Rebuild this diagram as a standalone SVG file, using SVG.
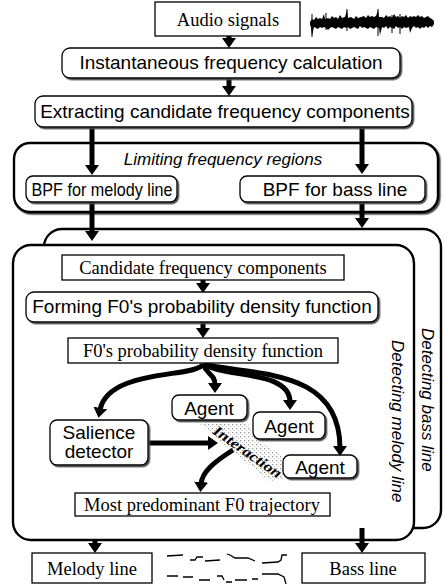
<svg xmlns="http://www.w3.org/2000/svg" width="444" height="584" viewBox="0 0 444 584">
<style>
.box{fill:#fff;stroke:#000;stroke-width:1.3}
.rbox{fill:#fff;stroke:#000;stroke-width:1.3}
.cont{fill:#fff;stroke:#000;stroke-width:2.4}
.serif{font-family:"Liberation Serif","Times New Roman",serif;font-size:18.5px;fill:#000}
.sans{font-family:"Liberation Sans",Arial,sans-serif;font-size:19px;fill:#000}
.it{font-family:"Liberation Sans",Arial,sans-serif;font-style:italic;font-size:17px;fill:#000}
.arr{fill:none;stroke:#000;stroke-width:5}
.mid{text-anchor:middle}
</style>
<defs>
<filter id="sh" x="-5%" y="-10%" width="115%" height="130%">
<feDropShadow dx="1.5" dy="1.5" stdDeviation="0.3" flood-color="#444"/>
</filter>
<marker id="ah" viewBox="0 0 10 14" markerWidth="10" markerHeight="14" refX="2" refY="7" orient="auto" markerUnits="userSpaceOnUse">
<path d="M0,0 L10,7 L0,14 Z" fill="#000"/>
</marker>
<pattern id="dots" width="4" height="4" patternUnits="userSpaceOnUse">
<rect x="0" y="0" width="1.3" height="1.3" fill="#999"/>
<rect x="2" y="2" width="1" height="1" fill="#bbb"/>
</pattern>
</defs>

<!-- containers -->
<g id="limiting">
<rect class="cont" x="14" y="143" width="424" height="69" rx="16" filter="url(#sh)"/>
<text class="it mid" x="223" y="165">Limiting frequency regions</text>
</g>
<g id="bass-container">
<rect class="cont" x="44" y="229" width="397" height="299" rx="18"/>
<text class="it" transform="translate(422,328) rotate(90)">Detecting bass line</text>
</g>
<g id="melody-container">
<rect class="cont" x="13" y="245" width="401" height="295" rx="18" stroke-width="2.6"/>
<text class="it" transform="translate(392,340) rotate(90)">Detecting melody line</text>
</g>

<!-- interaction band -->
<g id="interaction">
<polygon points="200,424 248,424 256,440 283,455 284,479 270,481 238,456 214,436" fill="url(#dots)"/>
<text transform="translate(212,433) rotate(35)" font-family="Liberation Serif,'Times New Roman',serif" font-style="italic" font-weight="bold" font-size="14.5" textLength="80" lengthAdjust="spacingAndGlyphs">Interaction</text>
</g>

<!-- connectors -->
<g id="connectors">
<path class="arr" d="M229,36 L229,40" marker-end="url(#ah)"/>
<path class="arr" d="M229,78 L229,88" marker-end="url(#ah)"/>
<path class="arr" d="M92,127 L92,167" marker-end="url(#ah)"/>
<path class="arr" d="M362,127 L362,166" marker-end="url(#ah)"/>
<path class="arr" d="M92,202 L92,233" marker-end="url(#ah)"/>
<path class="arr" d="M362,202 L362,220" marker-end="url(#ah)"/>
<path class="arr" d="M203,280 L203,285" marker-end="url(#ah)"/>
<path class="arr" d="M203,322 L203,330" marker-end="url(#ah)"/>
<path class="arr" d="M203,364 C198,378 108,368 100,410" marker-end="url(#ah)"/>
<path class="arr" d="M203,364 C207,375 215,374 215,385" marker-end="url(#ah)"/>
<path class="arr" d="M203,364 C225,378 290,370 290,402" marker-end="url(#ah)"/>
<path class="arr" d="M203,364 C250,376 340,366 340,448" stroke-width="7" marker-end="url(#ah)"/>
<path class="arr" d="M148,443 L210,443" marker-end="url(#ah)"/>
<path class="arr" d="M233,450 C214,462 202,472 201,484" stroke-width="6" marker-end="url(#ah)"/>
<path class="arr" d="M95,540 L95,545" marker-end="url(#ah)"/>
<path class="arr" d="M362,528 L362,545" marker-end="url(#ah)"/>
</g>

<!-- nodes -->
<g id="audio">
<rect class="box" x="155" y="2" width="145" height="34"/>
<text class="serif mid" x="228" y="26">Audio signals</text>
</g>
<g id="waveform">
<path d="M310,22 L312,19 314,20 316,17 318,19 320,18 322,19 324,14 325,19 328,18 330,19 332,16 334,18 336,17 338,19 340,15 342,18 345,17 347,10 348,18 351,17 354,19 356,16 358,18 361,17 364,16 366,18 368,15 370,17 372,16 374,17 376,16 378,10 379,17 382,17 384,18 386,15 388,17 390,16 392,18 394,14 396,17 398,16 400,18 402,16 404,17 406,15 408,18 410,16 412,17 414,16 416,17 418,15 420,17 422,16 424,18 426,17 428,16 430,18 432,19 434,21 L434,24 432,27 430,26 428,28 426,26 424,28 422,27 420,29 418,27 416,28 414,26 412,28 410,33 409,27 406,28 404,27 402,29 400,27 398,28 396,26 394,29 392,28 390,27 388,29 386,26 384,28 382,27 380,35 379,28 376,27 374,29 372,28 370,27 368,29 366,28 364,27 362,28 360,26 358,29 356,28 354,27 352,28 350,29 348,27 346,28 344,27 342,29 340,28 338,27 336,29 334,28 332,27 330,28 328,30 326,28 324,27 322,28 320,27 318,29 316,28 314,27 312,36 311,27 310,25 Z" fill="#000"/>
<path d="M312,14 L312,37 M347,9 L347,31 M378,9 L378,36 M400,14 L400,34 M326,13 L326,30 M392,15 L392,33" stroke="#000" stroke-width="1"/>
</g>
<g id="instantaneous">
<rect class="rbox" x="62" y="48" width="338" height="30" rx="8" filter="url(#sh)"/>
<text class="sans mid" x="231" y="69">Instantaneous frequency calculation</text>
</g>
<g id="extracting">
<rect class="rbox" x="35" y="96" width="377" height="31" rx="8" filter="url(#sh)"/>
<text class="sans mid" x="225" y="118">Extracting candidate frequency components</text>
</g>
<g id="bpf-melody">
<rect class="rbox" x="26" y="176" width="151" height="26" rx="7" filter="url(#sh)"/>
<text class="sans mid" x="102" y="196" textLength="141" lengthAdjust="spacingAndGlyphs">BPF for melody line</text>
</g>
<g id="bpf-bass">
<rect class="rbox" x="240" y="176" width="185" height="26" rx="7" filter="url(#sh)"/>
<text class="sans mid" x="335" y="196">BPF for bass line</text>
</g>
<g id="candidate">
<rect class="box" x="62" y="255" width="282" height="25"/>
<text class="serif mid" x="203" y="274">Candidate frequency components</text>
</g>
<g id="forming">
<rect class="rbox" x="26" y="292" width="352" height="30" rx="8" filter="url(#sh)"/>
<text class="sans mid" x="202" y="313">Forming F0's probability density function</text>
</g>
<g id="pdf">
<rect class="box" x="68" y="338" width="270" height="25"/>
<text class="serif mid" x="203" y="357">F0's probability density function</text>
</g>
<g id="agent1">
<rect class="rbox" x="172" y="395" width="75" height="25" rx="7" filter="url(#sh)"/>
<text class="sans mid" x="209" y="415">Agent</text>
</g>
<g id="agent2">
<rect class="rbox" x="253" y="412" width="72" height="27" rx="7" filter="url(#sh)"/>
<text class="sans mid" x="289" y="433">Agent</text>
</g>
<g id="agent3">
<rect class="rbox" x="283" y="455" width="74" height="23" rx="7" filter="url(#sh)"/>
<text class="sans mid" x="320" y="474">Agent</text>
</g>
<g id="salience">
<rect class="rbox" x="50" y="420" width="98" height="45" rx="7" filter="url(#sh)"/>
<text class="sans mid" x="99" y="439">Salience</text>
<text class="sans mid" x="99" y="458">detector</text>
</g>
<g id="predominant">
<rect class="box" x="75" y="493" width="255" height="23"/>
<text class="serif mid" x="202" y="511">Most predominant F0 trajectory</text>
</g>
<g id="melody-line">
<rect class="box" x="32" y="553" width="120" height="30"/>
<text class="serif mid" x="92" y="575">Melody line</text>
</g>
<g id="bass-line">
<rect class="box" x="302" y="553" width="123" height="30"/>
<text class="serif mid" x="363" y="575">Bass line</text>
</g>
<g id="pitch-curves" fill="none" stroke="#000" stroke-width="1.3">
<path d="M167,556 L183,555 M190,560 L195,560 L197,557 L203,557 M205,561 L220,560 M227,554 L230,555 L235,558 L248,558 L255,561 M262,563 L278,562 L281,560 L282,555 L287,555"/>
<path d="M167,576 L178,576 M183,577 L193,577 M199,580 L210,580 M217,576 L222,576 L224,580 M226,582 L232,582 M235,580 L247,580 M252,579 L258,579 M262,574 L278,574 L284,577 L286,584"/>
</g>
</svg>
